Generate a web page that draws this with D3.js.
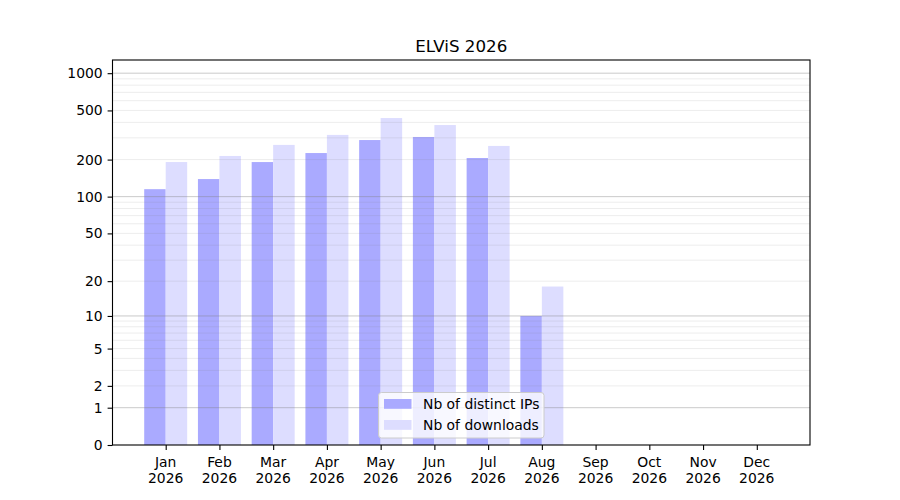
<!DOCTYPE html>
<html>
<head>
<meta charset="utf-8">
<script src="https://cdn.jsdelivr.net/npm/d3@7"></script>
<style>
  body { margin: 0; background: #fff; }
  text { font-family: "DejaVu Sans", sans-serif; fill: #000; }
</style>
</head>
<body>
<svg id="chart" width="900" height="500"></svg>
<script>
// data
var months = ["Jan", "Feb", "Mar", "Apr", "May", "Jun", "Jul", "Aug", "Sep", "Oct", "Nov", "Dec"]
var year = "2026"
var distinct_ips = [115, 139, 191, 226, 288, 305, 206, 10, 0, 0, 0, 0]
var downloads = [191, 214, 263, 317, 434, 381, 258, 18, 0, 0, 0, 0]
var y_ticks = [0, 1, 2, 5, 10, 20, 50, 100, 200, 500, 1000]
var major_grid = [1, 10, 100, 1000]
var minor_grid = [2, 3, 4, 5, 6, 7, 8, 9, 20, 30, 40, 50, 60, 70, 80, 90,
                  200, 300, 400, 500, 600, 700, 800, 900]
var series_names = ["Nb of distinct IPs", "Nb of downloads"]

/*********
*layout
*********/
var ax_left = 112.5, ax_right = 810, ax_top = 60, ax_bottom = 445
var bar_w = 0.4
var ip_color = "#aaaaff"
var dl_color = "#ddddff"

var svg = d3.select("#chart")

var x = d3.scaleLinear()
  .domain([-0.99, 11.99])
  .range([ax_left, ax_right])

var y = d3.scaleSymlog()
  .constant(1)
  .domain([0, 1278])
  .range([ax_bottom, ax_top])

/*********
*bars
*********/
var bars = svg.append("g").attr("class", "bars")

bars.selectAll(".bar_ip")
  .data(distinct_ips)
  .enter()
  .append("rect")
  .attr("class", "bar_ip")
  .attr("fill", ip_color)
  .attr("x", function(d, i){ return x(i - bar_w) })
  .attr("width", function(d, i){ return x(i) - x(i - bar_w) })
  .attr("y", function(d){ return y(d) })
  .attr("height", function(d){ return y(0) - y(d) })

bars.selectAll(".bar_dl")
  .data(downloads)
  .enter()
  .append("rect")
  .attr("class", "bar_dl")
  .attr("fill", dl_color)
  .attr("x", function(d, i){ return x(i) })
  .attr("width", function(d, i){ return x(i + bar_w) - x(i) })
  .attr("y", function(d){ return y(d) })
  .attr("height", function(d){ return y(0) - y(d) })

/*********
*grid (drawn over the bars like matplotlib)
*********/
var grid = svg.append("g").attr("class", "grid")

grid.selectAll(".minor")
  .data(minor_grid)
  .enter()
  .append("line")
  .attr("class", "minor")
  .attr("x1", ax_left).attr("x2", ax_right)
  .attr("y1", function(d){ return y(d) })
  .attr("y2", function(d){ return y(d) })
  .attr("stroke", "#808080")
  .attr("stroke-opacity", 0.14)
  .attr("stroke-width", 1)

grid.selectAll(".major")
  .data(major_grid)
  .enter()
  .append("line")
  .attr("class", "major")
  .attr("x1", ax_left).attr("x2", ax_right)
  .attr("y1", function(d){ return y(d) })
  .attr("y2", function(d){ return y(d) })
  .attr("stroke", "#808080")
  .attr("stroke-opacity", 0.42)
  .attr("stroke-width", 1)

/*********
*axes
*********/
var y_axis = d3.axisLeft(y)
  .tickValues(y_ticks)
  .tickFormat(d3.format("d"))
  .tickSize(4.9)
  .tickPadding(4.9)

var gy = svg.append("g")
  .attr("transform", "translate(" + ax_left + ",0)")
  .call(y_axis)
gy.select(".domain").remove()
gy.selectAll("line").attr("stroke", "#000").attr("stroke-width", 1.1)
gy.selectAll("text")
  .style("font-size", "13.9px")
  .style("font-family", "DejaVu Sans, sans-serif")

var x_axis = d3.axisBottom(x)
  .tickValues(d3.range(months.length))
  .tickFormat("")
  .tickSize(4.9)

var gx = svg.append("g")
  .attr("transform", "translate(0," + ax_bottom + ")")
  .call(x_axis)
gx.select(".domain").remove()
gx.selectAll("line").attr("stroke", "#000").attr("stroke-width", 1.1)

var xlab = svg.append("g").attr("class", "xlabels")
xlab.selectAll("text")
  .data(months)
  .enter()
  .append("text")
  .attr("x", function(d, i){ return x(i) })
  .attr("y", 467)
  .attr("text-anchor", "middle")
  .style("font-size", "13.9px")
  .text(function(d){ return d })
xlab.selectAll(".yr")
  .data(months)
  .enter()
  .append("text")
  .attr("class", "yr")
  .attr("x", function(d, i){ return x(i) })
  .attr("y", 483)
  .attr("text-anchor", "middle")
  .style("font-size", "13.9px")
  .text(year)

// frame
svg.append("rect")
  .attr("x", ax_left)
  .attr("y", ax_top)
  .attr("width", ax_right - ax_left)
  .attr("height", ax_bottom - ax_top)
  .attr("fill", "none")
  .attr("stroke", "#000")
  .attr("stroke-width", 1.1)

// title
svg.append("text")
  .attr("x", (ax_left + ax_right) / 2)
  .attr("y", 52)
  .attr("text-anchor", "middle")
  .style("font-size", "16.7px")
  .text("ELViS " + year)

/*********
*legend
*********/
var leg = svg.append("g").attr("class", "legend")
leg.append("rect")
  .attr("x", 378.5)
  .attr("y", 392.5)
  .attr("width", 165.5)
  .attr("height", 45.5)
  .attr("rx", 3)
  .attr("fill", "#fff")
  .attr("fill-opacity", 0.8)
  .attr("stroke", "#cccccc")
  .attr("stroke-width", 1)

var leg_items = leg.selectAll(".item")
  .data(series_names)
  .enter()
  .append("g")
  .attr("class", "item")
  .attr("transform", function(d, i){ return "translate(384," + (399 + i * 21) + ")" })

leg_items.append("rect")
  .attr("width", 27.5)
  .attr("height", 9.8)
  .attr("fill", function(d, i){ return i == 0 ? ip_color : dl_color })

leg_items.append("text")
  .attr("x", 39)
  .attr("y", 10)
  .style("font-size", "13.9px")
  .text(function(d){ return d })
</script>
</body>
</html>
